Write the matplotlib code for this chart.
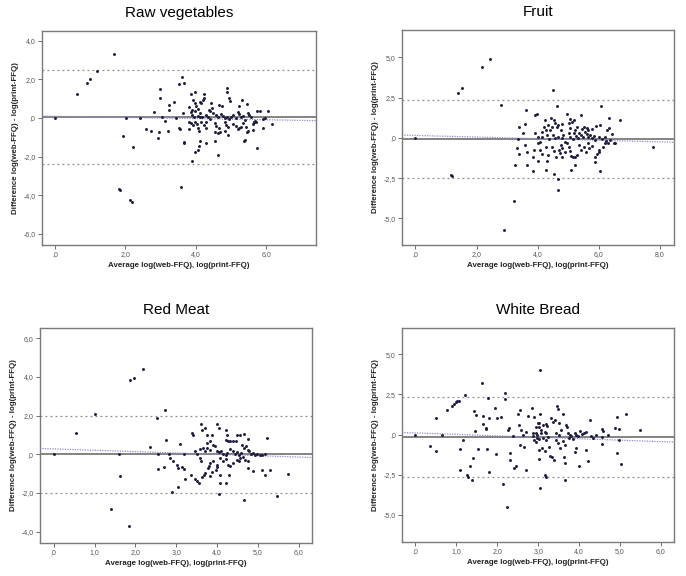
import numpy as np
import matplotlib
matplotlib.use('Agg')
import matplotlib.pyplot as plt
from matplotlib.ticker import FuncFormatter

plt.rcParams['font.family'] = ['Liberation Sans', 'DejaVu Sans']

## Raw vegetables: (average, difference)
veg_x = [0.0, 0.63, 0.90, 1.01, 1.20, 1.67, 1.93, 2.03, 2.22, 2.41, 1.82, 1.86, 2.12, 2.20, 3.58,
         3.60, 3.66, 3.53, 2.99, 2.99, 4.89, 4.89, 4.94, 4.96, 3.85, 3.99, 4.24, 4.24, 4.20, 4.13,
         4.16, 3.93, 3.38, 3.23, 3.25, 2.82, 3.80, 3.99, 4.01, 3.90, 3.97, 4.07, 4.11, 4.44, 4.47,
         4.67, 4.75, 4.37, 4.41, 5.30, 5.46, 5.24, 5.20, 5.73, 5.81, 6.06, 3.65, 3.87, 3.90, 3.95,
         4.06, 4.13, 4.18, 4.30, 4.34, 4.39, 4.50, 4.56, 4.63, 4.72, 4.77, 4.82, 4.88, 4.94, 5.00,
         5.07, 5.15, 5.22, 5.29, 5.35, 5.41, 5.48, 5.52, 5.58, 5.64, 5.68, 5.92, 5.96, 6.16, 3.04,
         3.13, 3.43, 3.52, 3.56, 3.21, 2.60, 2.73, 2.95, 2.92, 3.67, 3.82, 3.87, 3.92, 3.99, 4.03,
         4.07, 3.82, 4.09, 4.16, 4.22, 4.28, 4.30, 4.54, 4.58, 4.65, 4.54, 4.63, 4.69, 4.82, 4.86,
         4.91, 4.84, 4.91, 5.05, 5.13, 5.19, 5.24, 5.29, 5.35, 5.43, 5.45, 5.49, 5.62, 5.66, 5.71,
         5.41, 5.38, 5.62, 5.90, 5.73, 4.11, 4.09, 4.06, 3.99, 4.28, 3.66, 4.54, 4.63, 3.90]
veg_y = [0.0, 1.24, 1.78, 2.03, 2.41, 3.33, -0.95, 0.0, -1.50, 0.0, -3.67, -3.74, -4.26, -4.38, -3.60,
         2.10, 1.81, 1.74, 1.48, 1.02, 1.55, 1.34, 1.03, 0.86, 1.22, 1.33, 1.22, 1.05, 0.95, 0.84,
         0.76, 0.93, 0.81, 0.67, 0.41, 0.29, 0.57, 0.76, 0.62, 0.41, 0.38, 0.45, 0.24, 0.79, 0.53,
         0.67, 0.59, 0.41, 0.33, 0.90, 0.72, 0.59, 0.31, 0.38, 0.38, 0.36, 0.24, 0.28, 0.16, 0.07,
         0.12, 0.03, 0.07, 0.16, 0.03, -0.07, 0.24, 0.16, 0.07, 0.21, 0.10, -0.02, 0.03, -0.07, 0.07,
         0.16, -0.02, 0.21, 0.07, 0.10, -0.10, 0.24, 0.16, 0.03, -0.19, -0.14, -0.07, -0.02, -0.31, 0.03,
         -0.14, -0.02, -0.53, -0.60, -0.66, -0.57, -0.66, -0.72, -1.05, -1.24, -0.19, -0.28, -0.36, -0.19, -0.31,
         -0.55, -0.59, -0.66, -0.24, -0.36, -0.19, -0.53, -0.28, -0.41, -0.53, -0.71, -0.79, -0.72, -0.24, -0.36,
         -0.45, -0.66, -0.88, -0.31, -0.41, -0.59, -0.53, -0.45, -0.28, -0.45, -0.71, -0.66, -0.31, -0.24, -0.19,
         -1.14, -1.22, -0.62, -0.53, -1.57, -1.22, -1.45, -1.66, -1.79, -1.28, -1.28, -1.22, -1.90, -2.24]

## Fruit
fruit_x = [0.0, 1.39, 1.52, 2.19, 2.43, 2.81, 1.15, 1.19, 3.22, 2.89, 4.50, 7.76, 6.69, 4.67, 4.65,
           4.54, 4.62, 6.07, 3.62, 3.91, 3.99, 3.39, 3.59, 3.52, 6.34, 4.24, 4.44, 4.52, 4.96, 5.07,
           5.40, 5.18, 4.19, 4.26, 4.15, 4.35, 4.40, 4.48, 4.57, 4.62, 4.68, 4.77, 4.81, 5.01, 5.06,
           5.12, 5.22, 5.28, 5.44, 5.53, 5.61, 5.66, 5.77, 5.92, 6.05, 6.26, 6.32, 6.43, 3.91, 4.02,
           4.13, 4.30, 4.37, 4.51, 4.57, 4.66, 4.79, 4.84, 4.90, 5.01, 5.06, 5.14, 5.20, 5.25, 5.31,
           5.36, 5.42, 5.48, 5.55, 5.61, 5.66, 5.72, 5.77, 5.83, 5.88, 5.99, 6.10, 6.19, 6.23, 6.30,
           6.38, 6.48, 6.54, 3.35, 3.31, 3.38, 3.59, 3.64, 3.26, 3.64, 3.83, 3.89, 4.00, 3.83, 4.08,
           4.15, 4.26, 4.33, 4.30, 4.26, 4.46, 4.52, 4.59, 4.70, 4.73, 4.79, 4.77, 4.81, 4.88, 4.95,
           5.01, 5.06, 5.09, 5.17, 5.22, 5.28, 5.08, 5.22, 5.36, 5.42, 5.50, 5.57, 5.64, 5.68, 5.79,
           5.86, 5.93, 5.88, 5.99, 6.01, 6.05, 6.15, 6.21, 4.00, 4.08]
fruit_y = [0.0, 2.77, 3.08, 4.39, 4.89, 2.05, -2.30, -2.40, -3.93, -5.73, 2.98, -0.56, 1.12, -3.23, -2.57,
           -2.22, 1.99, 1.96, 1.72, 1.41, 1.49, 0.68, 0.89, 0.29, 1.26, 1.12, 1.22, 1.12, 1.49, 1.20,
           1.43, 1.12, 0.70, 0.49, 0.39, 0.80, 0.49, 0.66, 0.95, 0.70, 0.80, 0.49, 0.87, 0.91, 0.60,
           1.01, 0.49, 0.70, 0.54, 0.70, 0.60, 0.49, 0.54, 0.74, 0.80, 0.49, 0.60, 0.25, 0.29, 0.04,
           0.04, 0.18, -0.09, 0.18, -0.02, 0.08, -0.02, 0.18, -0.23, 0.29, 0.08, -0.09, 0.29, 0.12, -0.02,
           0.33, 0.18, 0.04, 0.39, 0.25, 0.08, 0.18, -0.02, 0.12, -0.13, 0.08, -0.09, 0.08, -0.17, -0.33,
           -0.13, -0.29, -0.33, -0.09, -0.64, -0.99, -0.44, -0.85, -1.68, -1.68, -1.16, -0.75, -1.47, -2.03, -0.75,
           -0.99, -0.54, -1.06, -1.47, -1.99, -0.54, -0.79, -1.16, -0.75, -0.95, -1.20, -0.44, -0.64, -0.85, -0.33,
           -0.54, -0.79, -1.12, -1.20, -1.16, -1.06, -1.99, -1.66, -0.44, -0.75, -0.58, -0.85, -0.33, -0.64, -0.50,
           -1.20, -1.00, -1.53, -0.85, -0.75, -2.09, -0.54, -0.33, -0.33, -0.23]

## Red Meat
meat_x = [0.0, 0.54, 1.02, 1.60, 1.63, 1.40, 1.84, 1.88, 1.97, 2.19, 2.53, 2.73, 2.37, 2.56, 2.56,
          2.71, 2.76, 2.83, 3.09, 2.84, 2.93, 3.01, 3.05, 3.15, 3.20, 3.21, 2.91, 3.05, 3.36, 3.46,
          3.51, 3.56, 3.64, 3.70, 3.78, 3.81, 3.84, 3.88, 4.05, 4.07, 4.22, 4.08, 4.30, 4.66, 5.47,
          5.74, 5.17, 5.11, 5.29, 4.87, 4.76, 3.38, 3.42, 3.60, 3.64, 3.71, 3.87, 3.76, 4.00, 4.06,
          4.23, 4.25, 4.48, 4.57, 4.66, 4.76, 5.22, 4.22, 4.27, 4.31, 4.40, 4.46, 3.76, 3.82, 3.91,
          3.58, 3.66, 3.70, 3.46, 3.50, 3.76, 3.82, 3.95, 3.99, 4.05, 4.11, 4.15, 4.22, 4.25, 4.31,
          4.38, 4.44, 4.49, 4.54, 4.60, 4.62, 4.66, 4.71, 4.75, 4.79, 4.84, 4.89, 4.93, 4.98, 5.05,
          5.11, 5.18, 4.48, 4.54, 4.57, 4.64, 4.68, 4.76, 3.99, 4.00, 3.97, 3.82, 3.89, 4.07, 4.15,
          4.22, 4.27, 4.33, 4.38, 3.58, 3.62, 3.68, 3.20]
meat_y = [0.0, 1.08, 2.08, 0.0, -1.12, -2.82, -3.72, 3.82, 3.96, 4.39, 1.88, 2.27, 0.36, 0.0, -0.76,
          -0.65, 0.74, 0.02, 0.54, -0.19, -0.36, -0.53, -0.70, -0.67, -0.76, -1.30, -1.94, -1.70, -1.05, -1.30,
          -1.36, -1.48, -1.19, -0.96, -0.70, -0.62, -1.13, -0.91, -2.05, -1.48, -1.48, -1.08, -1.08, -2.34, -2.17,
          -1.01, -1.08, -0.79, -0.79, -0.88, -0.70, 1.10, 0.98, 1.57, 1.28, 1.36, 1.02, 1.02, 1.59, 1.36,
          1.28, 1.02, 1.02, 0.98, 1.05, 0.78, 0.86, 0.76, 0.71, 0.67, 0.71, 0.67, 0.59, 0.67, 0.50,
          0.28, 0.33, 0.16, 0.19, 0.02, 0.33, 0.24, 0.41, 0.19, 0.12, 0.16, 0.02, -0.05, 0.07, 0.29,
          0.16, 0.02, 0.12, -0.02, 0.07, 0.50, 0.33, 0.41, 0.24, 0.16, 0.02, 0.07, -0.02, 0.02, -0.05,
          -0.02, 0.02, -0.27, -0.36, -0.19, -0.15, -0.27, -0.32, -0.53, -0.67, -0.79, -0.45, -0.32, -0.19, -0.36,
          -0.22, -0.53, -0.62, -0.45, -0.19, -0.36, -1.05, 0.0]

## White Bread
bread_x = [0.0, 0.64, 0.35, 0.51, 0.51, 0.78, 0.90, 0.94, 0.99, 1.02, 1.06, 1.22, 1.08, 1.10, 1.16,
           1.25, 1.29, 1.37, 1.33, 1.41, 1.43, 1.49, 1.46, 1.53, 1.63, 1.64, 1.65, 1.73, 1.72, 1.75,
           1.79, 1.78, 1.80, 1.95, 2.00, 2.08, 2.19, 2.18, 2.15, 2.30, 2.32, 2.26, 2.29, 2.41, 2.45,
           2.39, 2.51, 2.55, 2.53, 2.56, 2.59, 2.63, 2.65, 2.70, 2.71, 2.75, 2.87, 2.87, 2.90, 2.94,
           2.97, 2.97, 3.02, 3.00, 3.04, 2.86, 2.95, 2.91, 2.95, 3.02, 3.03, 3.06, 3.12, 3.18, 3.21,
           3.07, 3.16, 3.20, 3.03, 3.10, 3.16, 3.12, 3.18, 3.24, 3.03, 3.16, 3.20, 3.05, 3.26, 3.30,
           3.34, 3.38, 3.32, 3.36, 3.40, 3.46, 3.48, 3.60, 3.52, 3.56, 3.44, 3.51, 3.43, 3.48, 3.54,
           3.60, 3.65, 3.62, 3.65, 3.67, 3.70, 3.73, 3.77, 3.75, 3.81, 3.85, 3.89, 3.93, 3.97, 3.99,
           4.03, 4.08, 4.13, 4.17, 4.22, 4.16, 4.27, 4.30, 4.34, 4.42, 4.57, 4.58, 4.57, 4.57, 4.70,
           4.87, 4.97, 4.93, 4.92, 5.02, 5.15, 4.97, 5.49, 3.89, 3.93, 3.65, 2.23, 3.05, 1.98]
bread_y = [-0.02, -0.02, -0.71, -1.04, 1.02, 1.54, 1.79, 1.91, 2.00, 2.07, 2.12, 2.47, -0.91, -2.20, -0.31,
           -2.54, -2.62, -2.82, -1.95, -1.43, 1.44, 1.23, 0.25, -0.89, 3.24, 1.17, 0.65, 0.40, 0.33, -0.91,
           -2.31, 2.25, 1.00, 1.68, 1.00, 1.08, 2.58, 2.22, -3.10, -1.16, -1.58, 0.30, 0.40, -2.10, -1.95,
           -0.12, 1.29, 1.54, 0.60, -0.64, 0.29, -0.02, -0.75, -2.20, 0.19, 1.16, 0.08, -0.12, 1.08, 0.46,
           -0.02, -0.23, 0.50, 0.75, 1.25, 1.64, 0.12, -0.33, -0.44, -0.29, 0.75, 0.29, 0.60, 0.67, 0.54,
           0.12, 0.19, 0.08, -0.96, -0.85, -1.00, -0.23, -0.33, -0.17, -1.54, -2.52, -2.62, -3.35, -0.75, -1.33,
           -1.41, -1.58, 1.02, 0.81, 0.91, 1.79, 1.58, 1.25, 0.71, 0.29, 0.08, -0.02, -0.33, -0.54, -0.85,
           -0.37, -0.64, -1.41, -1.75, 0.60, 0.50, 0.12, -0.02, -0.23, -0.12, -0.29, 0.08, -0.02, -0.08, -1.95,
           0.25, 0.04, 0.08, 0.19, -1.62, -0.96, 0.91, -0.12, -0.23, -0.02, 0.33, 0.25, -0.58, -0.17, -0.02,
           0.40, 0.33, 1.08, -1.16, -1.85, 1.25, -0.33, 0.29, -1.06, -0.85, -2.83, -4.51, 4.05, -1.20]

titles = ['Raw vegetables', 'Fruit', 'Red Meat', 'White Bread']
means = [0.05, -0.08, 0.02, -0.17]
upper = [2.50, 2.36, 2.00, 2.33]
lower = [-2.41, -2.50, -2.00, -2.66]
reg = [(0.08, -0.03), (0.15, -0.05), (0.28, -0.07), (0.10, -0.09)]   # intercept, slope
xlims = [(-0.37, 7.4), (-0.44, 8.47), (-0.34, 6.33), (-0.33, 6.33)]
ylims = [(-6.57, 4.52), (-6.65, 6.71), (-4.56, 6.54), (-6.69, 6.65)]
xticks = [[0, 2, 4, 6], [0, 2, 4, 6, 8], [0, 1, 2, 3, 4, 5, 6], [0, 1, 2, 3, 4, 5, 6]]
yticks = [[4, 2, 0, -2, -4, -6], [5, 2.5, 0, -2.5, -5], [6, 4, 2, 0, -2, -4], [5, 2.5, 0, -2.5, -5]]
data = [(veg_x, veg_y), (fruit_x, fruit_y), (meat_x, meat_y), (bread_x, bread_y)]

rects = [[0.061, 0.575, 0.399, 0.372],
         [0.586, 0.575, 0.397, 0.373],
         [0.058, 0.058, 0.397, 0.373],
         [0.586, 0.059, 0.397, 0.372]]


def spss_fmt(v, pos):
    s = '%.1f' % v
    s = s.replace('.', ',')
    if s.startswith('0,'):
        s = s[1:]
    if s == '-0,0':
        s = ',0'
    return s


fig = plt.figure(figsize=(6.86, 5.76), dpi=100)
for i in range(4):
    ax = fig.add_axes(rects[i])
    x, y = data[i]
    x0, x1 = xlims[i]
    ax.axhline(upper[i], color='#8a8a8a', lw=0.9, ls=(0, (1.5, 2.5)), zorder=1)
    ax.axhline(lower[i], color='#8a8a8a', lw=0.9, ls=(0, (1.5, 2.5)), zorder=1)
    ax.axhline(means[i], color='#7a7a7a', lw=1.3, zorder=2)
    xx = np.array([x0, x1])
    ax.plot(xx, reg[i][0] + reg[i][1] * xx, color='#8e8ec8', lw=0.9, ls=(0, (1, 1)), zorder=2)
    ax.scatter(x, y, s=4.5, color='#1c1c3c', lw=0, zorder=3)
    ax.set_xlim(xlims[i])
    ax.set_ylim(ylims[i])
    ax.set_xticks(xticks[i])
    ax.set_yticks(yticks[i])
    ax.xaxis.set_major_formatter(FuncFormatter(spss_fmt))
    ax.yaxis.set_major_formatter(FuncFormatter(spss_fmt))
    ax.tick_params(labelsize=5, colors='#555555', length=3, width=0.6, pad=1.5)
    for sp in ax.spines.values():
        sp.set_color('#7a7a7a')
        sp.set_linewidth(1.0)
    ax.set_xlabel('Average log(web-FFQ), log(print-FFQ)', fontsize=5.7, fontweight='bold',
                  color='#222222', labelpad=3)
    ax.set_ylabel('Difference log(web-FFQ) - log(print-FFQ)', fontsize=5.7, fontweight='bold',
                  color='#222222', labelpad=3)
    ax.set_title(titles[i], fontsize=11, pad=10)

plt.savefig('out.png', dpi=100)
